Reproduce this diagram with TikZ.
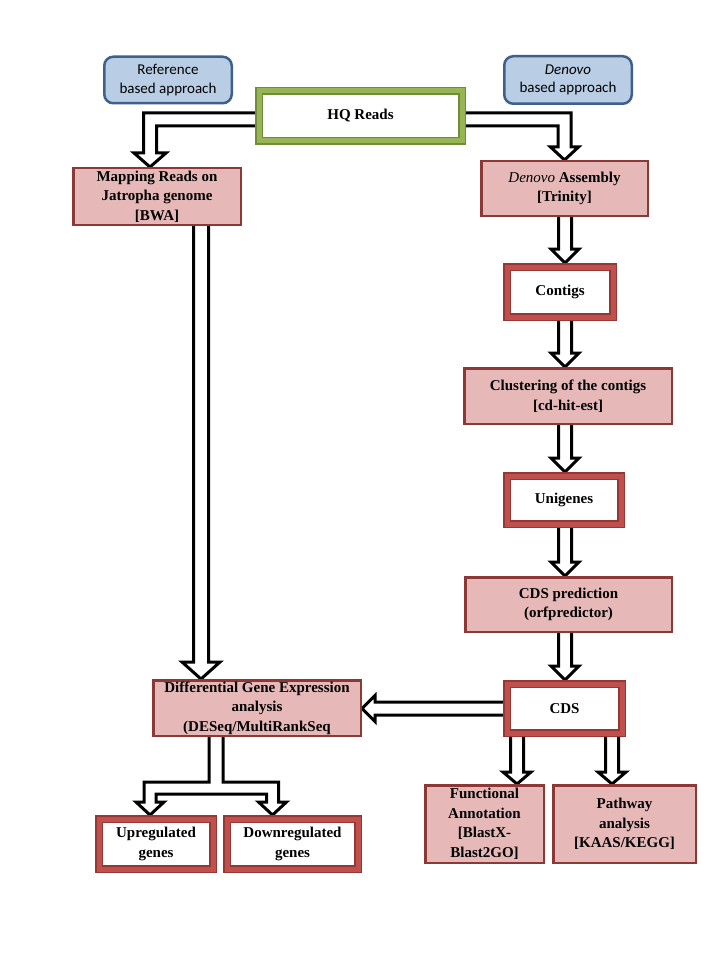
\documentclass[tikz,border=0pt]{standalone}
\usepackage{fontspec}
\setmainfont{Liberation Serif}
\newfontfamily\calib{Carlito}
\usetikzlibrary{calc,backgrounds}
\definecolor{pinkf}{RGB}{230,185,184}
\definecolor{pinkd}{RGB}{140,56,54}
\definecolor{redf}{RGB}{192,80,77}
\definecolor{redd}{RGB}{150,55,52}
\definecolor{greenf}{RGB}{150,182,86}
\definecolor{greend}{RGB}{112,140,56}
\definecolor{bluef}{RGB}{185,205,229}
\definecolor{blued}{RGB}{62,96,140}
\tikzset{
  txt/.style={align=center, inner sep=0pt, font=\bfseries\fontsize{15}{19.5}\selectfont},
  pinkbox/.style={txt, draw=pinkd, line width=2.5pt, fill=pinkf},
  redframe/.style={txt, draw=redd, line width=1.5pt, double=redf, double distance=5pt, fill=white, outer sep=4pt},
  greenframe/.style={txt, draw=greend, line width=1.5pt, double=greenf, double distance=5pt, fill=white, outer sep=4pt},
  bluebox/.style={align=center, inner sep=0pt, draw=blued, line width=2.5pt, fill=bluef, rounded corners=9pt, font=\calib\fontsize{15}{18.5}\selectfont},
  blk/.style={draw=black, line width=3pt, fill=white}
}
\newcommand{\vblk}[5]{%
  \draw[blk] let \p1=#1, \p2=#2 in
    (\x1-#3,\y1) -- (\x1-#3,\y2+#5) -- (\x1-#4,\y2+#5) -- (\x1,\y2)
    -- (\x1+#4,\y2+#5) -- (\x1+#3,\y2+#5) -- (\x1+#3,\y1);}
\begin{document}
\begin{tikzpicture}[x=1pt,y=-1pt]
\useasboundingbox (0,0) rectangle (720,960);
% columns
\coordinate (colR) at (565,0);
\coordinate (colL) at (201,0);
\coordinate (colF) at (517,0);
\coordinate (colP) at (612,0);
% nodes
\node[bluebox, minimum width=127.5pt, minimum height=46.5pt] (ref) at (168,80) {Reference\\based approach};
\node[bluebox, minimum width=127.5pt, minimum height=47.5pt] (dnv) at (568,80) {\itshape Denovo\\based approach};
\node[greenframe, minimum width=203pt, minimum height=50pt] (hq) at (360.5,116) {HQ Reads};
\node[pinkbox, minimum width=167.5pt, minimum height=56.5pt] (map) at (157,196.5) {Mapping Reads on\\Jatropha genome\\{}[BWA]};
\node[pinkbox, minimum width=166.5pt, minimum height=54.5pt] (asm) at (564.5,188.5) {{\mdseries\itshape Denovo} Assembly\\{}[Trinity]};
\node[redframe, minimum width=106pt, minimum height=50pt] (con) at (560,292) {Contigs};
\node[pinkbox, minimum width=207.5pt, minimum height=55.5pt] (clu) at (568,396) {Clustering of the contigs\\{}[cd-hit-est]};
\node[redframe, minimum width=114pt, minimum height=48pt] (uni) at (564,500) {Unigenes};
\node[pinkbox, minimum width=206.5pt, minimum height=54.5pt] (cdsp) at (568.5,604.5) {CDS prediction\\(orfpredictor)};
\node[redframe, minimum width=115pt, minimum height=49pt] (cds) at (564.5,708.5) {CDS};
\node[pinkbox, minimum width=207.5pt, minimum height=55.5pt] (dge) at (257,708) {Differential Gene Expression\\analysis\\(DESeq/MultiRankSeq};
\node[redframe, minimum width=114pt, minimum height=50pt] (up) at (156,844) {Upregulated\\genes};
\node[redframe, minimum width=131pt, minimum height=50pt] (down) at (292.5,844) {Downregulated\\genes};
\node[pinkbox, minimum width=118.5pt, minimum height=77.5pt] (fun) at (484.5,824) {Functional\\Annotation\\{}[BlastX-\\Blast2GO]};
\node[pinkbox, minimum width=142.5pt, minimum height=77.5pt] (path) at (624.5,824) {Pathway\\analysis\\{}[KAAS/KEGG]};
% arrows
\begin{scope}[on background layer]
\fill[white] (0,0) rectangle (720,960);
% HQ -> mapping (elbow)
\draw[blk] let \p1=($(hq.west)+(0,3.5)$), \p2=($(map.north)+(-7,0)$) in
  (\x1,\y1+6.5pt) -- (\x2-6.5pt,\y1+6.5pt) -- (\x2-6.5pt,\y2+14pt) -- (\x2-16pt,\y2+14pt)
  -- (\x2,\y2) -- (\x2+16pt,\y2+14pt) -- (\x2+6.5pt,\y2+14pt) -- (\x2+6.5pt,\y1-6.5pt) -- (\x1,\y1-6.5pt);
% HQ -> denovo assembly (elbow)
\draw[blk] let \p1=($(hq.east)+(0,3.5)$), \p2=(asm.north) in
  (\x1,\y1+6.5pt) -- (\x2+6.5pt,\y1+6.5pt) -- (\x2+6.5pt,\y2+13pt) -- (\x2+14pt,\y2+13pt)
  -- (\x2,\y2) -- (\x2-14pt,\y2+13pt) -- (\x2-6.5pt,\y2+13pt) -- (\x2-6.5pt,\y1-6.5pt) -- (\x1,\y1-6.5pt);
% right column
\vblk{(asm.south -| colR)}{(con.north -| colR)}{6.5pt}{14pt}{14pt}
\vblk{(con.south -| colR)}{(clu.north -| colR)}{6.5pt}{14pt}{14pt}
\vblk{(clu.south -| colR)}{(uni.north -| colR)}{6.5pt}{14pt}{14pt}
\vblk{(uni.south -| colR)}{(cdsp.north -| colR)}{6.5pt}{14pt}{14pt}
\vblk{(cdsp.south -| colR)}{(cds.north -| colR)}{6.5pt}{14pt}{14pt}
% mapping -> DGE
\vblk{(map.south -| colL)}{(dge.north -| colL)}{7.5pt}{19pt}{17pt}
% CDS -> functional / pathway
\vblk{(cds.south -| colF)}{(fun.north -| colF)}{6.5pt}{14pt}{12pt}
\vblk{(cds.south -| colP)}{(path.north -| colP)}{6.5pt}{14pt}{12pt}
% CDS -> DGE
\draw[blk] let \p1=(cds.west), \p2=(dge.east) in
  (\x1,\y1+6.5pt) -- (\x2+13pt,\y1+6.5pt) -- (\x2+13pt,\y1+13pt) -- (\x2,\y1)
  -- (\x2+13pt,\y1-13pt) -- (\x2+13pt,\y1-6.5pt) -- (\x1,\y1-6.5pt);
% DGE -> up / down (branch)
\draw[blk] let \p1=($(dge.south)+(-41,0)$), \p2=($(up.north)+(-6,0)$), \p3=($(down.north)+(-20,0)$) in
  (\x1-7pt,\y1) -- (\x1-7pt,\y2+27pt+6pt) -- (\x2-6pt,\y2+27pt+6pt) -- (\x2-6pt,\y2+13pt)
  -- (\x2-14pt,\y2+13pt) -- (\x2,\y2) -- (\x2+14pt,\y2+13pt) -- (\x2+6pt,\y2+13pt)
  -- (\x2+6pt,\y2+27pt-6pt) -- (\x3-6pt,\y2+27pt-6pt) -- (\x3-6pt,\y3+13pt)
  -- (\x3-14pt,\y3+13pt) -- (\x3,\y3) -- (\x3+14pt,\y3+13pt) -- (\x3+6pt,\y3+13pt)
  -- (\x3+6pt,\y2+27pt+6pt) -- (\x1+7pt,\y2+27pt+6pt) -- (\x1+7pt,\y1);
\end{scope}
\end{tikzpicture}
\end{document}
